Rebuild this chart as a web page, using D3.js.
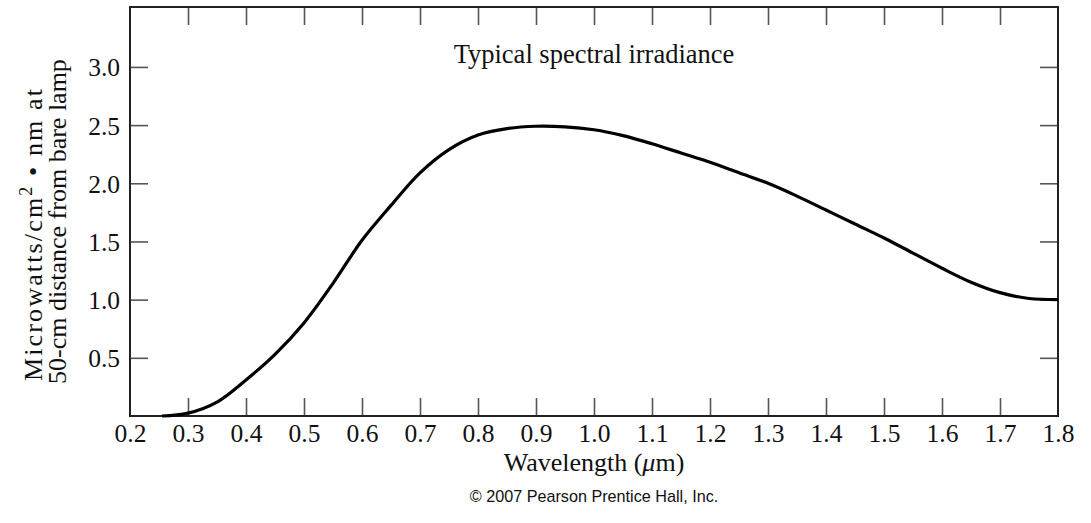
<!DOCTYPE html>
<html>
<head>
<meta charset="utf-8">
<script src="https://cdn.jsdelivr.net/npm/d3@7"></script>
<style>
  body { margin: 0; background: #fff; }
  svg text { font-family: "Liberation Serif", "Times New Roman", serif; fill: #111; }
</style>
</head>
<body>
<script>
// wavelength (um) and irradiance
var wavelength = [0.255, 0.3, 0.35, 0.4, 0.45, 0.5, 0.55, 0.6, 0.65, 0.7, 0.75, 0.8, 0.85, 0.9, 0.95, 1.0, 1.05, 1.1, 1.15, 1.2, 1.25, 1.3, 1.35, 1.4, 1.45, 1.5, 1.55, 1.6, 1.65, 1.7, 1.75, 1.8];
var irradiance = [0, 0.025, 0.12, 0.31, 0.53, 0.80, 1.14, 1.51, 1.81, 2.09, 2.29, 2.415, 2.47, 2.49, 2.485, 2.46, 2.41, 2.34, 2.26, 2.18, 2.09, 2.0, 1.89, 1.77, 1.65, 1.53, 1.40, 1.27, 1.15, 1.06, 1.01, 1.0];
var xTicks = [0.2, 0.3, 0.4, 0.5, 0.6, 0.7, 0.8, 0.9, 1.0, 1.1, 1.2, 1.3, 1.4, 1.5, 1.6, 1.7, 1.8];
var yTicks = [0.5, 1.0, 1.5, 2.0, 2.5, 3.0];

var width = 1091, height = 523;
var margin = {left: 130, right: 33, top: 7, bottom: 107};
var w = width - margin.left - margin.right;
var h = height - margin.top - margin.bottom;

var svg = d3.select("body").append("svg").attr("width", width).attr("height", height);
var g = svg.append("g").attr("transform", "translate(" + margin.left + "," + margin.top + ")");

var x = d3.scaleLinear().domain([0.2, 1.8]).range([0, w]);
var y = d3.scaleLinear().domain([0, 3.515]).range([h, 0]);

var tickLen = 18;
var fmt = d3.format(".1f");

// bottom axis, ticks pointing inward
var xb = g.append("g").attr("transform", "translate(0," + h + ")")
  .call(d3.axisBottom(x).tickValues(xTicks).tickFormat(fmt).tickSizeInner(-tickLen).tickSizeOuter(0).tickPadding(8));
// top axis, no labels
var xt = g.append("g")
  .call(d3.axisTop(x).tickValues(xTicks).tickFormat("").tickSizeInner(-tickLen).tickSizeOuter(0));
var yl = g.append("g")
  .call(d3.axisLeft(y).tickValues(yTicks).tickFormat(fmt).tickSizeInner(-tickLen).tickSizeOuter(0).tickPadding(10));
var yr = g.append("g").attr("transform", "translate(" + w + ",0)")
  .call(d3.axisRight(y).tickValues(yTicks).tickFormat("").tickSizeInner(-tickLen).tickSizeOuter(0));

[xb, xt, yl, yr].forEach(function(a) {
  a.select(".domain").remove();
  a.selectAll(".tick line").attr("stroke", "#555").attr("stroke-width", 1.6);
  a.selectAll(".tick text").attr("font-size", 25.5).attr("font-family", "Liberation Serif").attr("fill", "#111");
});
// no tick marks on the frame corners
xb.selectAll(".tick").filter(function(d) { return d == 0.2 || d == 1.8; }).select("line").remove();
xt.selectAll(".tick").filter(function(d) { return d == 0.2 || d == 1.8; }).remove();
yl.selectAll(".tick text").attr("dy", "0.35em");

// frame
g.append("rect").attr("width", w).attr("height", h)
  .attr("fill", "none").attr("stroke", "#222").attr("stroke-width", 2);

var pts = wavelength.map(function(d, i) { return [d, irradiance[i]]; });
var line = d3.line()
  .x(function(d) { return x(d[0]); })
  .y(function(d) { return y(d[1]); })
  .curve(d3.curveCatmullRom.alpha(0.5));

g.append("path").datum(pts).attr("d", line)
  .attr("fill", "none").attr("stroke", "#000").attr("stroke-width", 3.2);

g.append("text").attr("x", w / 2).attr("y", 56).attr("text-anchor", "middle")
  .attr("font-size", 26.5).text("Typical spectral irradiance");

// axis titles
var xl = svg.append("text").attr("x", margin.left + w / 2).attr("y", 471)
  .attr("text-anchor", "middle").attr("font-size", 26);
xl.append("tspan").text("Wavelength (");
xl.append("tspan").attr("font-style", "italic").text("\u03bc");
xl.append("tspan").text("m)");

var yt1 = svg.append("text").attr("transform", "translate(42,381) rotate(-90)")
  .attr("font-size", 26).attr("textLength", 292).attr("lengthAdjust", "spacing");
yt1.append("tspan").text("Microwatts/cm");
yt1.append("tspan").attr("font-size", 18).attr("dy", -10).text("2");
yt1.append("tspan").attr("dy", 10).text(" \u2022 nm at");

svg.append("text").attr("transform", "translate(66,384) rotate(-90)")
  .attr("font-size", 26).text("50-cm distance from bare lamp");

svg.append("text").attr("x", margin.left + w / 2).attr("y", 502)
  .attr("text-anchor", "middle").attr("font-size", 16.2)
  .style("font-family", "'Liberation Sans', Arial, sans-serif")
  .text("\u00a9 2007 Pearson Prentice Hall, Inc.");
</script>
</body>
</html>
